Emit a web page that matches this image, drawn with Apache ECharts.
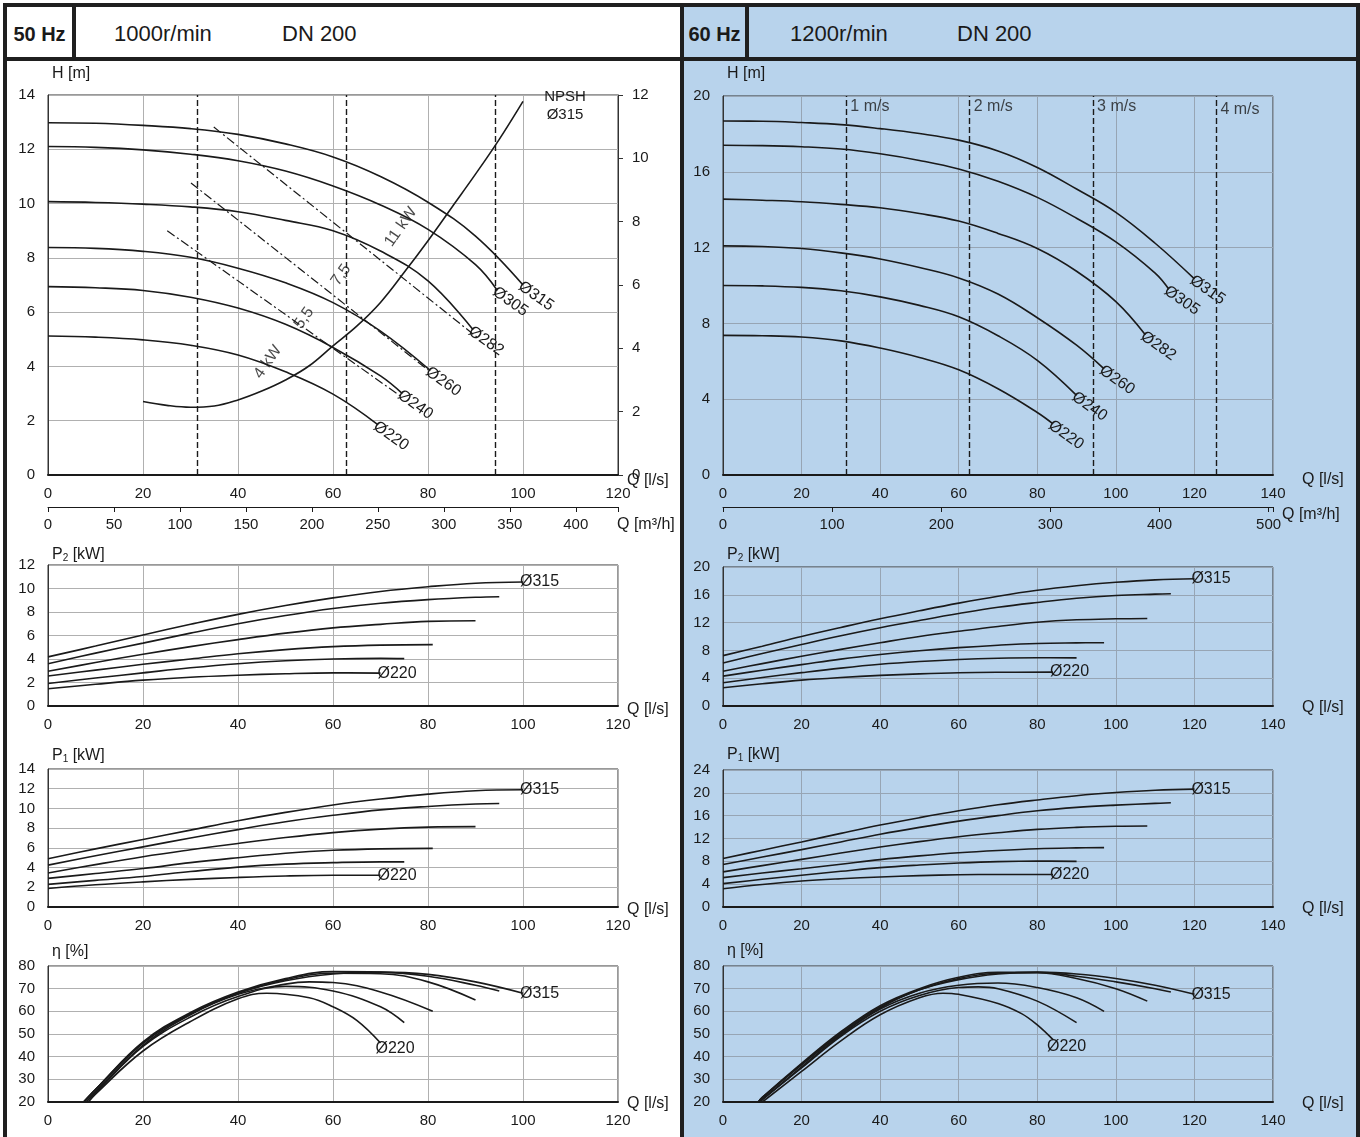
<!DOCTYPE html>
<html><head><meta charset="utf-8">
<script src="https://cdn.jsdelivr.net/npm/echarts@6/dist/echarts.min.js"></script>
<style>
html,body{margin:0;padding:0;background:#fff;}
#page{position:relative;width:1360px;height:1137px;overflow:hidden;font-family:"Liberation Sans",Arial,Helvetica,sans-serif;color:#1a1a1a;}
.bar{position:absolute;background:#1f1f1f;}
.panel{position:absolute;}
.hd{position:absolute;top:20px;font-size:22px;line-height:28px;white-space:nowrap;}
.hz{position:absolute;top:20px;font-size:20px;line-height:28px;font-weight:bold;text-align:center;white-space:nowrap;}
#chart{position:absolute;left:0;top:0;width:1360px;height:1137px;}
</style></head><body>
<div id="page">
  <div class="panel" style="left:7px;top:7px;width:673px;height:1130px;background:#ffffff"></div>
  <div class="panel" style="left:684px;top:7px;width:672px;height:1130px;background:#b8d3ec"></div>
  <div class="bar" style="left:3px;top:3px;width:1357px;height:4px"></div>
  <div class="bar" style="left:3px;top:3px;width:4px;height:1134px"></div>
  <div class="bar" style="left:680px;top:3px;width:4px;height:1134px"></div>
  <div class="bar" style="left:1356px;top:3px;width:4px;height:1134px"></div>
  <div class="bar" style="left:3px;top:57px;width:1357px;height:4px"></div>
  <div class="bar" style="left:72px;top:3px;width:4px;height:56px"></div>
  <div class="bar" style="left:745px;top:3px;width:4px;height:56px"></div>
  <div class="hz" style="left:7px;width:65px">50 Hz</div>
  <div class="hd" style="left:114px">1000r/min</div>
  <div class="hd" style="left:282px">DN 200</div>
  <div class="hz" style="left:684px;width:61px">60 Hz</div>
  <div class="hd" style="left:790px">1200r/min</div>
  <div class="hd" style="left:957px">DN 200</div>
  <div id="chart"></div>
</div>
<script>
// ---------------- DATA ----------------
const DIAMETERS = ['Ø315', 'Ø305', 'Ø282', 'Ø260', 'Ø240', 'Ø220'];

// 50 Hz : H(Q) [m] vs Q [l/s]
const h50_315 = [[0,12.98],[10,12.96],[20,12.88],[30,12.76],[40,12.55],[50,12.2],[60,11.72],[70,11.0],[80,10.05],[90,8.8],[100,7.0]];
const h50_305 = [[0,12.1],[10,12.07],[20,11.98],[30,11.82],[40,11.58],[50,11.2],[60,10.65],[70,9.95],[80,9.05],[90,7.75],[94.6,6.8]];
const h50_282 = [[0,10.07],[10,10.04],[20,9.98],[30,9.88],[40,9.7],[50,9.38],[60,9.0],[70,8.25],[80,7.15],[89.5,5.35]];
const h50_260 = [[0,8.38],[10,8.35],[20,8.24],[30,8.02],[40,7.62],[50,7.08],[60,6.35],[70,5.3],[80.5,3.85]];
const h50_240 = [[0,6.94],[10,6.9],[20,6.8],[30,6.55],[40,6.15],[50,5.55],[60,4.7],[70,3.65],[74.6,3.0]];
const h50_220 = [[0,5.12],[10,5.08],[20,4.98],[30,4.78],[40,4.42],[50,3.8],[60,2.98],[69.5,1.85]];
// NPSH (right axis) Ø315, 50 Hz
const npsh50 = [[20,2.32],[25,2.2],[30,2.14],[35,2.18],[40,2.37],[45,2.65],[50,3.0],[55,3.45],[60,4.08],[65,4.7],[70,5.45],[75,6.4],[80,7.4],[85,8.45],[90,9.5],[95,10.6],[100,11.8]];
// motor power limit lines (dash-dot) 11 kW, 7,5 kW, 5,5 kW
const pw50_11 = [[34.9,12.82],[90.3,5.08]];
const pw50_75 = [[30.1,10.76],[80.0,3.87]];
const pw50_55 = [[25.1,9.0],[74.1,2.92]];
const powerLabels = ['11 kW', '7,5', '5,5', '4 kW'];
const powerLabelAt = [[74.3,9.14],[61.7,7.37],[53.9,5.78],[46.3,4.16]];
// flow velocity lines in DN 200 (l/s)
const vel50 = [31.4, 62.8, 94.2];
const vel60 = [31.4, 62.8, 94.2, 125.6];
const velLabels = ['1 m/s', '2 m/s', '3 m/s', '4 m/s'];
const velLabelAt = [[31.4,19.45],[62.8,19.45],[94.2,19.45],[125.6,19.3]];

// 50 Hz : P2 [kW]
const p2_50_315 = [[0,4.18],[10,5.1],[20,6.05],[30,6.95],[40,7.8],[50,8.55],[60,9.2],[70,9.75],[80,10.15],[90,10.45],[100,10.55]];
const p2_50_305 = [[0,3.6],[10,4.5],[20,5.35],[30,6.2],[40,7.0],[50,7.7],[60,8.3],[70,8.75],[80,9.05],[90,9.25],[95,9.3]];
const p2_50_282 = [[0,2.95],[10,3.7],[20,4.4],[30,5.05],[40,5.65],[50,6.2],[60,6.65],[70,6.95],[80,7.2],[90,7.25]];
const p2_50_260 = [[0,2.55],[10,3.05],[20,3.55],[30,4.0],[40,4.45],[50,4.8],[60,5.05],[70,5.18],[81,5.22]];
const p2_50_240 = [[0,1.92],[10,2.38],[20,2.82],[30,3.25],[40,3.6],[50,3.85],[60,4.0],[70,4.05],[75,4.03]];
const p2_50_220 = [[0,1.47],[10,1.85],[20,2.2],[30,2.45],[40,2.62],[50,2.75],[60,2.82],[70,2.8]];
// 50 Hz : P1 [kW]
const p1_50_315 = [[0,4.9],[10,5.9],[20,6.85],[30,7.8],[40,8.75],[50,9.6],[60,10.35],[70,10.95],[80,11.45],[90,11.8],[100,11.9]];
const p1_50_305 = [[0,4.25],[10,5.2],[20,6.1],[30,7.0],[40,7.85],[50,8.65],[60,9.3],[70,9.85],[80,10.2],[90,10.45],[95,10.5]];
const p1_50_282 = [[0,3.45],[10,4.3],[20,5.1],[30,5.8],[40,6.45],[50,7.05],[60,7.55],[70,7.9],[80,8.1],[90,8.15]];
const p1_50_260 = [[0,2.9],[10,3.4],[20,3.9],[30,4.5],[40,5.0],[50,5.45],[60,5.75],[70,5.9],[81,5.95]];
const p1_50_240 = [[0,2.3],[10,2.7],[20,3.1],[30,3.6],[40,4.05],[50,4.35],[60,4.5],[70,4.58],[75,4.58]];
const p1_50_220 = [[0,1.87],[10,2.25],[20,2.55],[30,2.8],[40,3.0],[50,3.15],[60,3.22],[70,3.22]];
// 50 Hz : efficiency [%]
const e50_315 = [[7.5,20],[10,25.5],[20,46],[30,59],[40,68],[50,73.5],[60,76.5],[70,77.3],[80,76.3],[90,73],[100,68]];
const e50_305 = [[7.5,20],[10,25.5],[20,46.5],[30,59.5],[40,68.5],[50,74.5],[60,77.5],[70,77.3],[80,75.5],[90,71.5],[95,69]];
const e50_282 = [[7.5,20],[10,25.5],[20,46],[30,59],[40,68],[50,74],[60,76.8],[70,76.6],[80,73],[90,65]];
const e50_260 = [[8,20],[10,24.5],[20,45],[30,58.5],[40,67.5],[50,72],[55,73],[60,72.7],[70,68.5],[81,60]];
const e50_240 = [[8,20],[10,24],[20,44.5],[30,57.5],[40,66.5],[50,71],[60,69],[70,62],[75,55]];
const e50_220 = [[8.5,20],[10,23.5],[20,42.5],[30,55.5],[40,65.5],[46,68],[55,66],[60,62],[65,56],[70,46]];

// 60 Hz : H(Q)
const h60_315 = [[0,18.68],[10,18.67],[20,18.6],[30,18.49],[40,18.28],[50,18.02],[60,17.67],[70,17.1],[80,16.23],[90,15.09],[100,13.86],[110,12.23],[120,10.35]];
const h60_305 = [[0,17.4],[10,17.38],[20,17.32],[30,17.2],[40,16.95],[50,16.6],[60,16.15],[70,15.5],[80,14.65],[90,13.55],[100,12.3],[110,10.65],[113.5,9.8]];
const h60_282 = [[0,14.56],[10,14.5],[20,14.42],[30,14.28],[40,14.1],[50,13.8],[60,13.4],[70,12.75],[80,11.95],[90,10.75],[100,9.15],[107.5,7.4]];
const h60_260 = [[0,12.09],[10,12.06],[20,11.95],[30,11.72],[40,11.4],[50,10.95],[60,10.4],[70,9.55],[80,8.3],[90,6.85],[97,5.6]];
const h60_240 = [[0,10.0],[10,9.98],[20,9.9],[30,9.72],[40,9.4],[50,8.95],[60,8.35],[70,7.35],[80,6.05],[90,4.2]];
const h60_220 = [[0,7.37],[10,7.35],[20,7.28],[30,7.08],[40,6.7],[50,6.2],[60,5.55],[70,4.55],[80,3.3],[84,2.7]];
// 60 Hz : P2
const p2_60_315 = [[0,7.25],[10,8.6],[20,10.0],[30,11.3],[40,12.55],[50,13.7],[60,14.8],[70,15.8],[80,16.65],[90,17.3],[100,17.8],[110,18.15],[120,18.3]];
const p2_60_305 = [[0,6.2],[10,7.55],[20,8.85],[30,10.1],[40,11.25],[50,12.3],[60,13.3],[70,14.2],[80,14.9],[90,15.5],[100,15.9],[110,16.1],[114,16.15]];
const p2_60_282 = [[0,5.0],[10,6.1],[20,7.15],[30,8.15],[40,9.1],[50,10.0],[60,10.75],[70,11.45],[80,12.05],[90,12.4],[100,12.55],[108,12.6]];
const p2_60_260 = [[0,4.3],[10,5.15],[20,5.95],[30,6.75],[40,7.4],[50,7.95],[60,8.4],[70,8.75],[80,9.0],[90,9.08],[97,9.1]];
const p2_60_240 = [[0,3.35],[10,4.1],[20,4.8],[30,5.45],[40,6.0],[50,6.4],[60,6.7],[70,6.88],[80,6.95],[90,6.93]];
const p2_60_220 = [[0,2.63],[10,3.2],[20,3.72],[30,4.1],[40,4.4],[50,4.62],[60,4.78],[70,4.85],[84,4.88]];
// 60 Hz : P1
const p1_60_315 = [[0,8.5],[10,9.95],[20,11.4],[30,12.9],[40,14.35],[50,15.65],[60,16.85],[70,17.9],[80,18.75],[90,19.5],[100,20.05],[110,20.45],[120,20.65]];
const p1_60_305 = [[0,7.45],[10,8.75],[20,10.05],[30,11.4],[40,12.75],[50,13.95],[60,15.05],[70,16.0],[80,16.85],[90,17.45],[100,17.85],[110,18.15],[114,18.25]];
const p1_60_282 = [[0,6.15],[10,7.25],[20,8.35],[30,9.45],[40,10.5],[50,11.45],[60,12.3],[70,13.0],[80,13.6],[90,13.95],[100,14.15],[108,14.2]];
const p1_60_260 = [[0,5.15],[10,5.95],[20,6.7],[30,7.5],[40,8.3],[50,8.95],[60,9.5],[70,9.9],[80,10.2],[90,10.35],[97,10.4]];
const p1_60_240 = [[0,4.1],[10,4.85],[20,5.55],[30,6.25],[40,6.9],[50,7.35],[60,7.7],[70,7.95],[80,8.05],[90,8.0]];
const p1_60_220 = [[0,3.2],[10,3.95],[20,4.55],[30,4.95],[40,5.25],[50,5.5],[60,5.65],[70,5.7],[84,5.7]];
// 60 Hz : efficiency
const e60_315 = [[9,20],[10,21.8],[20,36.5],[30,50],[40,61.5],[50,69.5],[60,74],[70,76.5],[80,77.3],[90,76.5],[100,74.5],[110,71.5],[120,67.5]];
const e60_305 = [[9,20],[10,22],[20,37],[30,51],[40,62.5],[50,70],[60,75],[70,77.2],[80,77.2],[90,75.5],[100,73],[110,70],[114,68.5]];
const e60_282 = [[9,20],[10,22],[20,36.5],[30,50.5],[40,62],[50,69.5],[60,74.5],[70,76.8],[80,77],[90,74.5],[100,70],[108,64.5]];
const e60_260 = [[9.5,20],[10,21],[20,35.5],[30,49.5],[40,61],[50,68],[60,71.5],[70,72.5],[80,70.5],[90,66],[97,60]];
const e60_240 = [[9.5,20],[10,21],[20,35],[30,49],[40,60],[50,67],[60,70.5],[65,70.8],[70,70],[80,64.5],[90,55]];
const e60_220 = [[10,20],[20,33.5],[30,47],[40,58.5],[50,66],[56,68],[60,67.5],[70,63.5],[76,59],[80,54],[84,47.5]];

const H50 = [h50_315,h50_305,h50_282,h50_260,h50_240,h50_220];
const P2_50 = [p2_50_315,p2_50_305,p2_50_282,p2_50_260,p2_50_240,p2_50_220];
const P1_50 = [p1_50_315,p1_50_305,p1_50_282,p1_50_260,p1_50_240,p1_50_220];
const E50 = [e50_315,e50_305,e50_282,e50_260,e50_240,e50_220];
const H60 = [h60_315,h60_305,h60_282,h60_260,h60_240,h60_220];
const P2_60 = [p2_60_315,p2_60_305,p2_60_282,p2_60_260,p2_60_240,p2_60_220];
const P1_60 = [p1_60_315,p1_60_305,p1_60_282,p1_60_260,p1_60_240,p1_60_220];
const E60 = [e60_315,e60_305,e60_282,e60_260,e60_240,e60_220];

// ---------------- STYLE / LAYOUT ----------------
const INK = '#1a1a1a';
const FONT = '"Liberation Sans", Arial, Helvetica, sans-serif';
const GRID_L = '#b0b0b0';
const GRID_R = '#97a5b4';
const grids = [
  {left:48, top:95, width:570, height:380},
  {left:48, top:565, width:570, height:141},
  {left:48, top:769, width:570, height:138},
  {left:48, top:966, width:570, height:136},
  {left:723, top:96, width:550, height:379},
  {left:723, top:567, width:550, height:139},
  {left:723, top:770, width:550, height:137},
  {left:723, top:966, width:550, height:136}
].map(g => Object.assign({show:true, borderColor:'#333', borderWidth:1, backgroundColor:'transparent', containLabel:false}, g));

function qAxis(gi, max, gap, dy, gc) {
  return {type:'value', gridIndex:gi, min:0, max:max, interval:20, position:'bottom',
    axisLine:{show:true, onZero:false, lineStyle:{color:INK, width:2}},
    axisTick:{show:false},
    axisLabel:{color:INK, fontSize:15, margin:11, fontFamily:FONT},
    splitLine:{show:true, lineStyle:{color:gc, width:1}},
    name:'Q [l/s]', nameLocation:'end', nameGap:gap, nameMoveOverlap:false,
    nameTextStyle:{color:INK, fontSize:16, fontFamily:FONT, align:'left', verticalAlign:'top', lineHeight:2*dy}};
}
function m3Axis(gi, max, interval, gap, dy) {
  return {type:'value', gridIndex:gi, min:0, max:max, interval:interval, position:'bottom', offset:32,
    axisLine:{show:true, onZero:false, lineStyle:{color:INK, width:1}},
    axisTick:{show:true, inside:false, length:5, lineStyle:{color:INK, width:1}},
    axisLabel:{color:INK, fontSize:15, margin:10, fontFamily:FONT, formatter: v => (v % interval === 0 ? String(v) : '')},
    splitLine:{show:false},
    name:'Q [m³/h]', nameLocation:'end', nameGap:gap, nameMoveOverlap:false,
    nameTextStyle:{color:INK, fontSize:16, fontFamily:FONT, align:'left', verticalAlign:'top', lineHeight:2*dy}};
}
function yAx(gi, min, max, interval, name, gap, gc, rich) {
  return {type:'value', gridIndex:gi, min:min, max:max, interval:interval, position:'left',
    axisLine:{show:true, onZero:false, lineStyle:{color:'#333', width:1}},
    axisTick:{show:false},
    axisLabel:{color:INK, fontSize:15, margin:13, fontFamily:FONT},
    splitLine:{show:true, lineStyle:{color:gc, width:1}},
    name:name, nameLocation:'end', nameGap:gap, nameMoveOverlap:false,
    nameTextStyle:Object.assign({color:INK, fontSize:16, fontFamily:FONT, align:'left', verticalAlign:'bottom', padding:[0,0,0,4]},
      rich ? {rich:{s:{fontSize:10, fontFamily:FONT, color:INK, verticalAlign:'bottom', lineHeight:10}}} : {})};
}

const xAxes = [
  qAxis(0, 120, 9, 6, GRID_L), m3Axis(0, 432, 50, -1, 18),
  qAxis(1, 120, 9, 4, GRID_L), qAxis(2, 120, 9, 3, GRID_L), qAxis(3, 120, 9, 2, GRID_L),
  qAxis(4, 140, 29, 5, GRID_R), m3Axis(4, 504, 100, 9, 8),
  qAxis(5, 140, 29, 2, GRID_R), qAxis(6, 140, 29, 2, GRID_R), qAxis(7, 140, 29, 2, GRID_R)
];
const yAxes = [
  yAx(0, 0, 14, 2, 'H [m]', 13, GRID_L),
  {type:'value', gridIndex:0, min:0, max:12, interval:2, position:'right',
    axisLine:{show:true, onZero:false, lineStyle:{color:'#333', width:1}},
    axisTick:{show:true, inside:false, length:5, lineStyle:{color:'#333'}},
    axisLabel:{color:INK, fontSize:15, margin:14, fontFamily:FONT}, splitLine:{show:false}},
  yAx(1, 0, 12, 2, 'P{s|2} [kW]', 2, GRID_L, true),
  yAx(2, 0, 14, 2, 'P{s|1} [kW]', 5, GRID_L, true),
  yAx(3, 20, 80, 10, 'η [%]', 6, GRID_L),
  yAx(4, 0, 20, 4, 'H [m]', 14, GRID_R),
  yAx(5, 0, 20, 4, 'P{s|2} [kW]', 4, GRID_R, true),
  yAx(6, 0, 24, 4, 'P{s|1} [kW]', 7, GRID_R, true),
  yAx(7, 20, 80, 10, 'η [%]', 7, GRID_R)
];

// ---------------- SERIES ----------------
const series = [];
function curve(data, xi, yi, lbl) {
  const d = data.map(p => ({value:p}));
  if (lbl) d[d.length-1].label = Object.assign({show:true, color:INK, fontSize:16, fontFamily:FONT}, lbl);
  const s = {type:'line', xAxisIndex:xi, yAxisIndex:yi, data:d, smooth:0.4,
    symbol:'circle', symbolSize:0, showSymbol:true, showAllSymbol:true, silent:true,
    lineStyle:{color:INK, width:1.6}, itemStyle:{color:INK, borderWidth:0}, label:{show:false},
    emphasis:{disabled:true}, z:5};
  series.push(s);
  return s;
}
function velMark(vals) {
  return {silent:true, symbol:['none','none'], animation:false, label:{show:false}, emphasis:{disabled:true},
    lineStyle:{color:INK, type:[6,3], width:1.4}, data: vals.map(q => ({xAxis:q}))};
}

// H charts
H50.forEach((c,i) => {
  const s = curve(c, 0, 0, {formatter:DIAMETERS[i], position:'right', distance:-3, rotate:-35});
  if (i === 0) s.markLine = velMark(vel50);
});
curve(npsh50, 0, 1, {formatter:'NPSH\nØ315', position:'right', distance:0, align:'center', offset:[42,5], lineHeight:18, fontSize:15});
[pw50_11, pw50_75, pw50_55].forEach(p => series.push({type:'line', xAxisIndex:0, yAxisIndex:0, data:p, symbol:'none', silent:true,
  lineStyle:{color:INK, width:1.2, type:[9,3,2,3]}, emphasis:{disabled:true}, z:4}));
series.push({type:'scatter', xAxisIndex:0, yAxisIndex:0, symbolSize:0, silent:true,
  data: powerLabelAt.map((p,i) => ({value:p, label:{formatter:powerLabels[i]}})),
  label:{show:true, position:'inside', rotate:55, color:INK, fontSize:16, fontFamily:FONT}});

H60.forEach((c,i) => {
  const s = curve(c, 5, 5, {formatter:DIAMETERS[i], position:'right', distance:-3, rotate:-35});
  if (i === 0) s.markLine = velMark(vel60);
});
series.push({type:'scatter', xAxisIndex:5, yAxisIndex:5, symbolSize:0, silent:true,
  data: velLabelAt.map((p,i) => ({value:p, label:{formatter:velLabels[i]}})),
  label:{show:true, position:'right', distance:4, color:INK, fontSize:16, fontFamily:FONT}});

// power & efficiency charts
function endLbls(arr, xi, yi, lastLbl) {
  arr.forEach((c,i) => {
    let l = null;
    if (i === 0) l = {formatter:DIAMETERS[0], position:'right', distance:-3};
    if (i === arr.length-1) l = Object.assign({formatter:DIAMETERS[5], position:'right', distance:-3}, lastLbl || {});
    curve(c, xi, yi, l);
  });
}
endLbls(P2_50, 2, 2);
endLbls(P1_50, 3, 3);
endLbls(E50, 4, 4, {distance:-5, offset:[0,6]});
endLbls(P2_60, 7, 6);
endLbls(P1_60, 8, 7);
endLbls(E60, 9, 8, {distance:-6, offset:[0,7]});

const chart = echarts.init(document.getElementById('chart'), null, {renderer:'canvas'});
chart.setOption({
  animation:false,
  backgroundColor:'transparent',
  textStyle:{fontFamily:FONT, color:INK},
  grid:grids,
  xAxis:xAxes,
  yAxis:yAxes,
  series:series
});
</script>
</body></html>
